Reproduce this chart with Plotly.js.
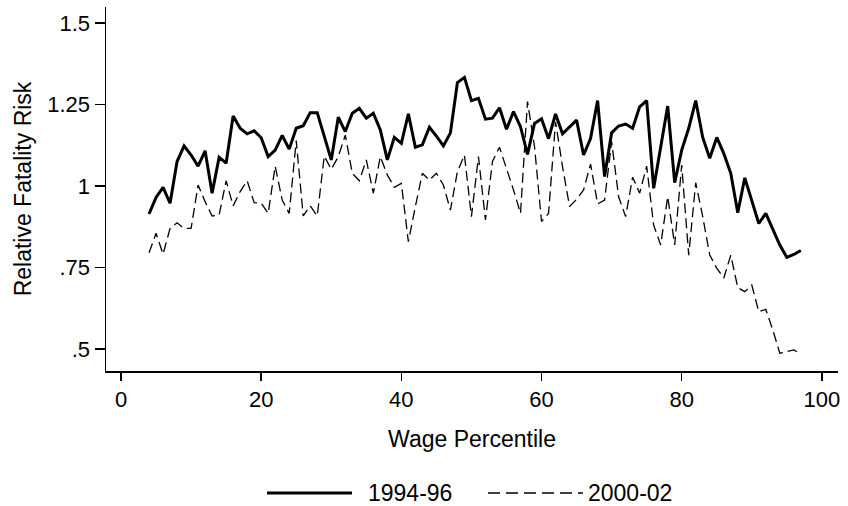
<!DOCTYPE html>
<html>
<head>
<meta charset="utf-8">
<script src="https://cdn.plot.ly/plotly-3.0.1.min.js"></script>
<style>html,body{margin:0;padding:0;background:#fff;}#chart{width:848px;height:506px;}</style>
</head>
<body>
<div id="chart"></div>
<script>
const percentiles = [4,5,6,7,8,9,10,11,12,13,14,15,16,17,18,19,20,21,22,23,24,25,26,27,28,29,30,31,32,33,34,35,36,37,38,39,40,41,42,43,44,45,46,47,48,49,50,51,52,53,54,55,56,57,58,59,60,61,62,63,64,65,66,67,68,69,70,71,72,73,74,75,76,77,78,79,80,81,82,83,84,85,86,87,88,89,90,91,92,93,94,95,96,97];

const risk9496 = [0.914,0.965,0.996,0.947,1.075,1.123,1.095,1.061,1.108,0.978,1.088,1.070,1.215,1.177,1.160,1.169,1.148,1.090,1.110,1.155,1.113,1.177,1.185,1.225,1.225,1.156,1.080,1.211,1.167,1.223,1.238,1.208,1.223,1.172,1.080,1.149,1.131,1.221,1.119,1.126,1.180,1.153,1.123,1.163,1.317,1.333,1.262,1.269,1.205,1.208,1.240,1.174,1.228,1.182,1.097,1.192,1.206,1.145,1.221,1.160,1.182,1.202,1.095,1.146,1.262,1.029,1.163,1.184,1.190,1.177,1.243,1.262,0.993,1.119,1.245,1.010,1.110,1.177,1.262,1.149,1.085,1.149,1.100,1.039,0.918,1.025,0.952,0.885,0.916,0.868,0.819,0.781,0.790,0.802];

const risk0002 = [0.795,0.855,0.791,0.870,0.887,0.870,0.870,1.003,0.952,0.908,0.911,1.016,0.939,0.983,1.016,0.949,0.947,0.916,1.061,0.957,0.916,1.139,0.908,0.939,0.908,1.092,1.051,1.090,1.156,1.039,1.016,1.080,0.978,1.090,1.034,0.996,1.008,0.829,0.937,1.039,1.018,1.039,1.003,0.926,1.044,1.095,0.906,1.090,0.896,1.075,1.119,1.054,0.988,0.916,1.259,1.121,0.891,0.916,1.197,1.059,0.937,0.959,0.988,1.067,0.945,0.957,1.136,0.967,0.906,1.027,0.978,1.061,0.880,0.819,0.967,0.819,1.064,0.788,1.010,0.906,0.788,0.748,0.717,0.788,0.688,0.676,0.696,0.614,0.622,0.558,0.487,0.492,0.497,0.485];

const seriesNames = ["1994-96", "2000-02"];
const xTickVals = [0,20,40,60,80,100];
const yTickVals = [0.5,0.75,1,1.25,1.5];
const yTickText = [".5",".75","1","1.25","1.5"];

const FONT = "Liberation Sans, Arial, Helvetica, sans-serif";

const traces = [
  {x: percentiles, y: risk9496, name: seriesNames[0], mode: "lines", type: "scatter",
   line: {color: "#000", width: 3}, showlegend: false},
  {x: percentiles, y: risk0002, name: seriesNames[1], mode: "lines", type: "scatter",
   line: {color: "#000", width: 1.3, dash: "10px,5px"}, showlegend: false}
];

// plot area: left 106, right 838, top 7, bottom 371
const L = 106, R = 838, T = 7, B = 371;
const px = v => (v - L) / (R - L);
const py = v => (B - v) / (B - T);
const legY = 493;

const layout = {
  width: 848, height: 506,
  margin: {l: L, r: 848 - R, t: T, b: 506 - B},
  paper_bgcolor: "#fff", plot_bgcolor: "#fff",
  font: {family: FONT, size: 22, color: "#000"},
  xaxis: {
    range: [-2.14, 102.3], tickvals: xTickVals, showgrid: false, zeroline: false,
    showline: true, linecolor: "#000", linewidth: 1.5, mirror: false,
    ticks: "outside", ticklen: 8, tickwidth: 1.5, tickcolor: "#000",
    tickfont: {family: FONT, size: 22, color: "#000"},
    title: {text: "Wage Percentile", font: {family: FONT, size: 23, color: "#000"}, standoff: 20}
  },
  yaxis: {
    range: [0.4325, 1.549], tickvals: yTickVals, ticktext: yTickText, showgrid: false, zeroline: false,
    showline: true, linecolor: "#000", linewidth: 1.5,
    ticks: "outside", ticklen: 10, tickwidth: 1.5, tickcolor: "#000",
    tickfont: {family: FONT, size: 22, color: "#000"},
    title: {text: "Relative Fatality Risk", font: {family: FONT, size: 23, color: "#000"}, standoff: 9}
  },
  shapes: [
    {type: "line", xref: "paper", yref: "paper", x0: px(267), x1: px(352), y0: py(legY), y1: py(legY),
     line: {color: "#000", width: 3}},
    {type: "line", xref: "paper", yref: "paper", x0: px(488), x1: px(583), y0: py(legY), y1: py(legY),
     line: {color: "#000", width: 1.3, dash: "12px,6px"}}
  ],
  annotations: [
    {xref: "paper", yref: "paper", x: px(366), y: py(legY), xanchor: "left", yanchor: "middle",
     text: seriesNames[0], showarrow: false, font: {family: FONT, size: 23, color: "#000"}},
    {xref: "paper", yref: "paper", x: px(586), y: py(legY), xanchor: "left", yanchor: "middle",
     text: seriesNames[1], showarrow: false, font: {family: FONT, size: 23, color: "#000"}}
  ],
  showlegend: false
};

Plotly.newPlot("chart", traces, layout, {displayModeBar: false, staticPlot: true});
</script>
</body>
</html>
